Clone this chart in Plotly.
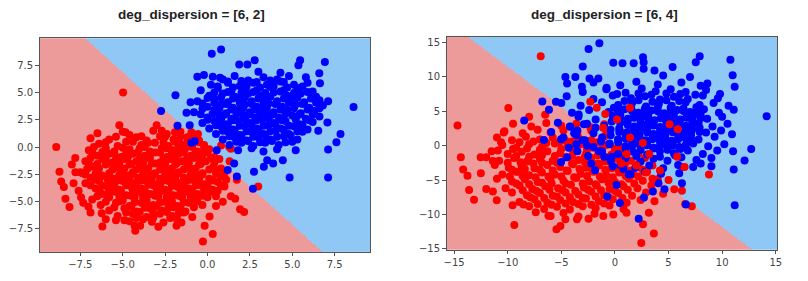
import numpy as np
import plotly.graph_objects as go

# ---------------- data ----------------
titles = ["deg_dispersion = [6, 2]", "deg_dispersion = [6, 4]"]

# linear decision boundary: w0*x + w1*y + b > 0 -> class 1 (blue)
left_clf = [1.40, 1.0, 0.15]
right_clf = [1.164, 1.0, 0.15]

left_xrange = [-9.9, 9.6]
left_yrange = [-9.6, 9.96]
right_xrange = [-15.7, 15.14]
right_yrange = [-15.14, 15.8]

left_ticks = [-7.5, -5.0, -2.5, 0.0, 2.5, 5.0, 7.5]
left_ticktext = ["\u22127.5", "\u22125.0", "\u22122.5", "0.0", "2.5", "5.0", "7.5"]
right_ticks = [-15, -10, -5, 0, 5, 10, 15]
right_ticktext = ["\u221215", "\u221210", "\u22125", "0", "5", "10", "15"]

left_red = [
    (-5.0,1.4),(-4.6,1.1),(-3.2,1.5),(-2.4,1.2),(-1.6,1.4),(-0.9,1.1),
    (-5.8,0.7),(-4.2,0.9),(-3.6,0.6),(-2.8,1.0),(-2.0,0.7),(-1.2,0.9),(-0.5,0.6),
    (-6.4,0.3),(-5.3,0.1),(-4.8,0.5),(-3.9,0.2),(-3.1,0.4),(-2.3,0.1),(-1.6,0.3),(-0.8,0.5),(-0.2,0.2),
    (-7.0,-0.3),(-6.0,-0.1),(-5.5,-0.4),(-4.6,-0.2),(-4.0,-0.1),(-3.4,-0.4),(-2.7,-0.1),(-2.0,-0.3),(-1.3,-0.1),(-0.6,-0.4),(0.1,-0.2),
    (-6.5,-0.8),(-5.8,-0.6),(-5.1,-0.9),(-4.4,-0.6),(-3.7,-0.8),(-3.1,-0.5),(-2.4,-0.9),(-1.7,-0.6),(-1.0,-0.8),(-0.3,-0.7),(0.4,-0.9),
    (-7.2,-1.3),(-6.2,-1.1),(-5.6,-1.4),(-4.9,-1.1),(-4.2,-1.3),(-3.5,-1.0),(-2.8,-1.4),(-2.2,-1.1),(-1.5,-1.3),(-0.8,-1.0),(-0.1,-1.3),(0.7,-1.1),
    (-6.8,-1.8),(-6.0,-1.6),(-5.3,-1.9),(-4.6,-1.6),(-4.0,-1.8),(-3.3,-1.5),(-2.6,-1.9),(-1.9,-1.6),(-1.2,-1.8),(-0.5,-1.6),(0.3,-1.9),
    (-7.5,-2.3),(-6.5,-2.1),(-5.8,-2.4),(-5.1,-2.1),(-4.4,-2.3),(-3.8,-2.0),(-3.1,-2.4),(-2.4,-2.1),(-1.7,-2.3),(-1.0,-2.0),(-0.3,-2.4),(0.5,-2.1),(1.0,-2.4),
    (-6.9,-2.8),(-6.2,-2.6),(-5.5,-2.9),(-4.8,-2.6),(-4.1,-2.8),(-3.5,-2.5),(-2.8,-2.9),(-2.1,-2.6),(-1.4,-2.8),(-0.7,-2.5),(0.1,-2.9),(0.8,-2.7),
    (-7.2,-3.3),(-6.4,-3.1),(-5.7,-3.4),(-5.0,-3.1),(-4.3,-3.3),(-3.7,-3.0),(-3.0,-3.4),(-2.3,-3.1),(-1.6,-3.3),(-0.9,-3.0),(-0.2,-3.4),(0.6,-3.2),
    (-6.6,-3.8),(-5.9,-3.6),(-5.2,-3.9),(-4.5,-3.6),(-3.9,-3.8),(-3.2,-3.5),(-2.5,-3.9),(-1.8,-3.6),(-1.1,-3.8),(-0.4,-3.5),(0.3,-3.9),
    (-6.2,-4.3),(-5.5,-4.1),(-4.8,-4.4),(-4.1,-4.1),(-3.4,-4.3),(-2.7,-4.0),(-2.0,-4.4),(-1.3,-4.1),(-0.6,-4.3),(0.2,-4.1),
    (-6.8,-4.8),(-5.8,-4.6),(-5.0,-4.9),(-4.3,-4.6),(-3.6,-4.8),(-2.9,-4.5),(-2.2,-4.9),(-1.5,-4.6),(-0.8,-4.8),(0.0,-4.6),
    (-6.3,-5.3),(-5.4,-5.1),(-4.6,-5.4),(-3.9,-5.1),(-3.2,-5.3),(-2.5,-5.0),(-1.8,-5.4),(-1.1,-5.1),(-0.3,-5.3),
    (-5.8,-5.8),(-4.9,-5.6),(-4.2,-5.9),(-3.4,-5.6),(-2.7,-5.8),(-2.0,-5.5),(-1.3,-5.9),
    (-5.3,-6.3),(-4.4,-6.1),(-3.6,-6.4),(-2.8,-6.1),(-2.1,-6.3),(-1.4,-6.0),
    (-4.6,-6.8),(-3.8,-6.6),(-2.6,-6.9),(-1.8,-6.6),
    # denser core fill
    (-5.4,0.95),(-3.9,1.0),(-2.5,0.95),(-1.6,0.95),(-0.8,0.9),
    (-6.0,0.45),(-4.4,0.5),(-3.5,0.4),(-2.6,0.45),(-1.9,0.5),(-1.2,0.4),(-0.5,0.45),
    (-6.7,0.0),(-5.0,-0.05),(-3.7,0.0),(-2.4,-0.1),(-1.7,0.05),(-0.9,0.0),(-0.2,-0.05),
    (-6.8,-0.5),(-6.2,-0.45),(-5.5,-0.55),(-4.8,-0.5),(-4.1,-0.45),(-3.4,-0.6),(-2.8,-0.5),(-2.1,-0.55),(-1.4,-0.5),(-0.7,-0.45),(0.0,-0.5),
    (-6.9,-1.0),(-6.0,-0.95),(-5.4,-1.05),(-4.7,-0.95),(-4.0,-1.05),(-3.4,-1.0),(-2.6,-1.0),(-1.9,-0.95),(-1.2,-1.05),(-0.5,-0.95),(0.2,-1.0),
    (-7.0,-1.5),(-6.5,-1.55),(-5.9,-1.45),(-5.2,-1.5),(-4.5,-1.55),(-3.8,-1.45),(-3.1,-1.5),(-2.5,-1.55),(-1.8,-1.45),(-1.1,-1.5),(-0.4,-1.55),(0.4,-1.45),
    (-7.1,-2.0),(-6.4,-1.95),(-5.6,-2.05),(-4.9,-1.95),(-4.2,-2.05),(-3.5,-1.95),(-2.8,-2.05),(-2.1,-1.95),(-1.4,-2.05),(-0.7,-1.95),(0.1,-2.05),(0.8,-1.95),
    (-7.2,-2.5),(-6.6,-2.45),(-5.2,-2.55),(-4.5,-2.5),(-3.8,-2.45),(-3.2,-2.55),(-2.5,-2.5),(-1.8,-2.45),(-1.0,-2.55),(-0.3,-2.5),(0.5,-2.45),
    (-6.6,-3.0),(-5.9,-2.95),(-5.3,-3.05),(-4.6,-2.95),(-3.9,-3.05),(-3.3,-2.95),(-2.6,-3.05),(-1.9,-2.95),(-1.2,-3.05),(-0.5,-2.95),(0.3,-3.05),(1.1,-3.0),
    (-6.9,-3.5),(-6.2,-3.55),(-5.5,-3.45),(-4.8,-3.5),(-4.2,-3.55),(-3.5,-3.45),(-2.8,-3.5),(-2.1,-3.55),(-1.4,-3.45),(-0.7,-3.5),(0.0,-3.55),(0.8,-3.5),
    (-6.4,-4.0),(-5.8,-3.95),(-5.1,-4.05),(-4.4,-3.95),(-3.7,-4.05),(-3.0,-3.95),(-2.3,-4.05),(-1.6,-3.95),(-0.9,-4.05),(-0.2,-3.95),(0.6,-4.0),
    (-6.5,-4.5),(-5.9,-4.45),(-5.2,-4.55),(-4.5,-4.45),(-3.8,-4.55),(-3.1,-4.45),(-2.4,-4.55),(-1.7,-4.45),(-1.0,-4.55),(-0.3,-4.45),(0.5,-4.5),
    (-6.0,-5.0),(-5.2,-4.95),(-4.3,-5.05),(-3.6,-5.0),(-2.8,-5.05),(-2.1,-4.95),(-1.4,-5.05),(-0.6,-4.95),
    (-5.5,-5.5),(-4.5,-5.45),(-3.7,-5.55),(-3.0,-5.45),(-2.3,-5.55),(-1.6,-5.45),(-0.8,-5.5),
    (-4.8,-6.0),(-4.0,-5.95),(-3.2,-6.05),(-2.4,-5.95),(-1.7,-6.05),
    (-4.2,-6.5),(-3.2,-6.45),(-2.2,-6.5),
    # scattered
    (-8.92,0.0),(-4.98,5.0),(-6.49,1.26),(-8.73,-2.25),(-8.63,-3.15),(-8.47,-3.66),(-8.38,-4.74),
    (-8.14,-5.49),(-7.79,-2.31),(-7.37,-2.4),(-7.46,-4.59),(-7.33,-5.1),(-7.02,-5.46),(-6.2,-7.26),
    (-6.24,-6.06),(-4.26,-7.65),(-4.3,-7.2),(-3.97,-7.2),(-3.28,-6.84),(-1.83,-7.2),(-1.54,-6.9),
    (-0.27,-8.64),(-0.17,-7.2),(0.31,-7.95),(0.12,-6.36),(0.5,-5.4),(1.38,-4.5),(1.63,-4.74),
    (1.92,-5.7),(2.16,-5.94),(1.73,-3.0),(2.99,-3.6),(-0.95,1.35),(-0.56,1.2),(1.28,0.0),
    (1.38,-0.15),(0.8,0.15),(-4.84,1.35),(-2.7,1.5),(-1.92,1.35),(-6.9,0.8),(-7.8,-1.0),
    (-5.2,2.0),(-3.0,2.0),(1.3,-1.3),(1.0,-3.6),(-6.0,-6.6),(-4.9,-6.7),(0.9,-5.0),
    (-7.9,-3.3),(-8.0,-1.6),(-7.6,-4.0),(-6.9,-6.0),(-5.4,-6.7),(-2.9,-7.3),(-0.9,-6.4),
]

left_blue = [
    (0.9,6.2),(1.6,6.5),(2.4,6.1),(3.3,6.4),(4.1,6.2),(4.8,6.5),
    (0.2,5.7),(1.2,5.9),(1.9,5.6),(2.7,5.9),(3.5,5.7),(4.3,6.0),(5.1,5.7),(5.9,5.9),
    (-0.4,5.2),(0.6,5.4),(1.4,5.1),(2.1,5.4),(2.9,5.2),(3.7,5.5),(4.5,5.2),(5.3,5.4),(6.2,5.1),
    (0.1,4.7),(0.9,4.9),(1.6,4.6),(2.4,4.9),(3.1,4.7),(3.9,5.0),(4.7,4.7),(5.5,4.9),(6.4,4.6),
    (-0.6,4.2),(0.4,4.4),(1.2,4.1),(1.9,4.4),(2.6,4.2),(3.4,4.5),(4.1,4.2),(4.9,4.4),(5.7,4.1),(6.6,4.3),
    (0.0,3.7),(0.8,3.9),(1.5,3.6),(2.2,3.9),(2.9,3.7),(3.6,4.0),(4.4,3.7),(5.2,3.9),(6.0,3.6),(6.8,3.8),
    (-0.8,3.2),(0.4,3.4),(1.1,3.1),(1.8,3.4),(2.5,3.2),(3.2,3.5),(3.9,3.2),(4.7,3.4),(5.5,3.1),(6.3,3.3),
    (0.0,2.7),(0.7,2.9),(1.4,2.6),(2.1,2.9),(2.8,2.7),(3.5,3.0),(4.2,2.7),(5.0,2.9),(5.8,2.6),(6.6,2.8),
    (-0.3,2.2),(0.4,2.4),(1.1,2.1),(1.8,2.4),(2.5,2.2),(3.2,2.5),(3.9,2.2),(4.6,2.4),(5.4,2.1),(6.2,2.3),
    (0.1,1.7),(0.8,1.9),(1.5,1.6),(2.2,1.9),(2.9,1.7),(3.6,2.0),(4.3,1.7),(5.1,1.9),(5.9,1.6),
    (0.5,1.2),(1.2,1.4),(1.9,1.1),(2.6,1.4),(3.3,1.2),(4.0,1.5),(4.8,1.2),(5.6,1.4),
    (0.9,0.7),(1.6,0.9),(2.3,0.6),(3.0,0.9),(3.7,0.7),(4.5,1.0),(5.3,0.7),
    (1.3,0.2),(2.0,0.4),(2.7,0.1),(3.4,0.4),(4.2,0.2),(5.0,0.5),
    (1.8,-0.3),(2.6,-0.1),(3.3,-0.4),(4.1,-0.2),(5.2,-0.3),
    # denser core fill
    (1.2,6.0),(2.0,6.05),(2.9,5.95),(3.7,6.1),(4.5,5.95),
    (0.6,5.55),(1.5,5.45),(2.3,5.55),(3.1,5.45),(3.9,5.6),(4.7,5.45),(5.6,5.55),
    (0.4,5.0),(1.2,5.05),(2.0,4.95),(2.7,5.05),(3.4,4.95),(4.3,5.1),(5.1,4.95),(5.9,5.05),
    (0.0,4.5),(0.8,4.55),(1.5,4.45),(2.2,4.55),(3.0,4.45),(3.7,4.6),(4.5,4.45),(5.3,4.55),(6.1,4.45),
    (-0.3,4.0),(0.4,4.05),(1.1,3.95),(1.9,4.05),(2.6,3.95),(3.3,4.1),(4.0,3.95),(4.8,4.05),(5.6,3.95),(6.4,4.05),
    (-0.3,3.5),(0.7,3.55),(1.4,3.45),(2.1,3.55),(2.8,3.45),(3.5,3.6),(4.3,3.45),(5.1,3.55),(5.9,3.45),(6.6,3.55),
    (-0.4,3.0),(0.3,3.05),(1.0,2.95),(1.7,3.05),(2.4,2.95),(3.1,3.1),(3.8,2.95),(4.6,3.05),(5.4,2.95),(6.2,3.05),
    (0.0,2.5),(0.8,2.55),(1.5,2.45),(2.2,2.55),(2.9,2.45),(3.6,2.6),(4.4,2.45),(5.2,2.55),(6.0,2.45),
    (0.5,2.0),(1.2,2.05),(1.9,1.95),(2.6,2.05),(3.3,1.95),(4.0,2.1),(4.8,1.95),(5.6,2.05),
    (0.9,1.5),(1.6,1.55),(2.3,1.45),(3.0,1.55),(3.7,1.45),(4.5,1.6),(5.3,1.45),
    (1.3,1.0),(2.0,1.05),(2.7,0.95),(3.4,1.05),(4.1,0.95),(4.9,1.05),
    (1.7,0.5),(2.4,0.55),(3.1,0.45),(3.8,0.55),(4.6,0.45),
    # scattered
    (0.25,8.55),(0.8,8.94),(1.87,7.56),(2.35,7.56),(2.78,7.95),(5.36,7.5),(5.46,7.95),(6.92,7.8),
    (6.59,6.75),(6.63,5.85),(7.11,4.2),(8.61,3.66),(7.84,1.2),(7.6,0.45),(7.11,-0.21),(7.07,2.25),
    (7.11,-2.79),(4.84,-2.79),(4.44,-1.2),(2.74,-2.25),(1.73,-2.7),(1.19,-2.1),(2.68,-3.81),
    (-2.74,3.3),(-1.89,4.74),(-1.77,1.95),(-1.24,3.15),(-1.05,2.01),(-0.6,6.45),(-0.21,6.6),
    (0.31,6.45),(0.74,6.36),(-0.95,0.39),(-0.76,0.54),(0.54,-0.3),(1.57,-1.5),(3.52,-1.2),
    (3.87,-1.5),(3.32,-1.8),(6.24,3.0),(6.53,1.5),(3.0,6.9),(4.3,6.8),(5.8,6.4),(-1.0,4.1),
]

right_red = [
    (-9.5,3.2),(-7.8,2.8),(-6.4,3.3),(-5.0,2.9),(-3.6,3.2),(-2.3,2.7),(-1.0,3.1),
    (-10.3,2.1),(-8.6,1.8),(-7.2,2.3),(-6.0,1.9),(-4.8,2.2),(-3.5,1.7),(-2.2,2.2),(-0.8,1.8),(0.5,2.1),
    (-11.0,1.2),(-9.6,0.8),(-8.3,1.3),(-7.0,0.9),(-5.8,1.2),(-4.6,0.7),(-3.4,1.1),(-2.2,0.8),(-1.0,1.3),(0.3,0.9),(1.6,1.2),
    (-10.5,0.1),(-9.2,-0.3),(-8.0,0.2),(-6.8,-0.2),(-5.6,0.3),(-4.4,-0.1),(-3.2,0.2),(-2.0,-0.3),(-0.8,0.1),(0.5,-0.2),(1.8,0.2),
    (-11.5,-0.8),(-10.0,-1.2),(-8.7,-0.9),(-7.5,-1.3),(-6.3,-0.8),(-5.1,-1.1),(-3.9,-0.7),(-2.7,-1.2),(-1.5,-0.9),(-0.3,-1.3),(0.9,-0.8),(2.2,-1.1),
    (-10.8,-2.2),(-9.4,-1.8),(-8.2,-2.3),(-7.0,-1.9),(-5.8,-2.2),(-4.6,-1.7),(-3.4,-2.1),(-2.2,-1.8),(-1.0,-2.3),(0.2,-1.9),(1.5,-2.2),(2.8,-1.8),
    (-11.2,-2.8),(-9.9,-3.2),(-8.7,-2.9),(-7.5,-3.3),(-6.3,-2.8),(-5.1,-3.1),(-3.9,-2.7),(-2.7,-3.2),(-1.5,-2.9),(-0.3,-3.3),(0.9,-2.8),(2.2,-3.1),(3.5,-2.9),
    (-10.5,-4.2),(-9.2,-3.8),(-8.0,-4.3),(-6.8,-3.9),(-5.6,-4.2),(-4.4,-3.7),(-3.2,-4.1),(-2.0,-3.8),(-0.8,-4.3),(0.4,-3.9),(1.7,-4.2),(3.0,-3.8),
    (-11.0,-4.8),(-9.6,-5.2),(-8.4,-4.9),(-7.2,-5.3),(-6.0,-4.8),(-4.8,-5.1),(-3.6,-4.7),(-2.4,-5.2),(-1.2,-4.9),(0.0,-5.3),(1.3,-4.8),(2.6,-5.1),(4.0,-4.9),
    (-10.2,-6.2),(-8.9,-5.8),(-7.7,-6.3),(-6.5,-5.9),(-5.3,-6.2),(-4.1,-5.7),(-2.9,-6.1),(-1.7,-5.8),(-0.5,-6.3),(0.8,-5.9),(2.1,-6.2),(3.4,-5.8),
    (-9.6,-6.8),(-8.2,-7.2),(-7.0,-6.9),(-5.8,-7.3),(-4.6,-6.8),(-3.4,-7.1),(-2.2,-6.7),(-1.0,-7.2),(0.3,-6.9),(1.6,-7.3),(2.9,-6.8),
    (-8.9,-8.2),(-7.5,-7.8),(-6.3,-8.3),(-5.1,-7.9),(-3.9,-8.2),(-2.7,-7.7),(-1.5,-8.1),(-0.2,-7.8),(1.1,-8.3),(2.4,-7.9),
    (-8.0,-8.8),(-6.6,-9.2),(-5.4,-8.9),(-4.2,-9.3),(-3.0,-8.8),(-1.8,-9.1),(-0.5,-8.7),(0.8,-9.2),
    (-6.2,-10.2),(-4.8,-9.8),(-3.4,-10.3),(-1.9,-9.9),
    (-6.8,-2.5),(-4.0,-2.6),(-2.8,-2.4),(-1.6,-2.6),(-7.0,-3.5),(-4.5,-3.6),(-3.3,-3.4),(-2.1,-3.6),(-0.9,-3.5),
    (-5.0,-4.5),(-3.8,-4.6),(-2.6,-4.4),(-1.4,-4.5),(-5.9,-5.5),(-3.0,-5.5),(-1.8,-5.6),(-4.0,-1.5),(-2.8,-1.6),(-1.6,-1.4),
    # denser core fill
    (-8.9,0.5),(-7.6,0.6),(-6.4,0.4),(-5.2,0.5),(-4.0,0.6),(-2.8,0.4),(-1.6,0.5),
    (-9.5,-0.5),(-8.2,-0.4),(-7.0,-0.6),(-5.0,-0.5),(-3.8,-0.4),(-2.6,-0.6),(-1.2,-0.5),(0.0,-0.4),
    (-9.2,-1.5),(-8.0,-1.6),(-6.8,-1.4),(-5.6,-1.5),(-0.4,-1.5),(0.8,-1.6),
    (-10.0,-2.5),(-8.8,-2.4),(-7.6,-2.6),(-5.4,-2.5),(-0.4,-2.5),(1.0,-2.4),(2.2,-2.6),
    (-9.6,-3.5),(-8.4,-3.4),(-5.8,-3.6),(0.3,-3.4),(1.5,-3.6),(2.6,-3.5),
    (-9.8,-4.5),(-8.6,-4.4),(-7.4,-4.6),(-6.2,-4.5),(-0.2,-4.6),(1.0,-4.4),(2.2,-4.5),
    (-9.2,-5.5),(-8.0,-5.6),(-6.8,-5.4),(-4.6,-5.5),(-0.6,-5.4),(0.6,-5.6),(1.8,-5.5),
    (-8.6,-6.5),(-7.3,-6.6),(-6.1,-6.4),(-4.9,-6.5),(-3.7,-6.6),(-2.5,-6.4),(-1.3,-6.5),(0.0,-6.6),(1.2,-6.4),
    (-7.9,-7.5),(-6.6,-7.6),(-5.4,-7.4),(-4.2,-7.5),(-3.0,-7.6),(-1.8,-7.4),(-0.6,-7.5),(0.7,-7.6),
    (-7.2,-8.5),(-5.9,-8.6),(-4.6,-8.4),(-3.4,-8.5),(-2.2,-8.6),(-1.0,-8.4),
    # scattered
    (-6.92,13.0),(-14.68,2.95),(-14.37,-1.67),(-14.15,-3.48),(-13.75,-4.38),(-13.6,-6.43),(-13.14,-7.86),
    (-12.52,-1.67),(-12.0,-1.67),(-11.38,-2.24),(-12.0,-6.29),(-11.38,-6.67),(-11.02,-7.95),(-10.92,-0.71),
    (-10.62,0.48),(-10.37,1.9),(-9.94,5.48),(-9.38,-11.52),(-9.54,-8.67),(-8.52,-8.57),(-7.38,-9.67),
    (-6.0,-10.24),(-5.45,-12.14),(-5.08,-11.67),(-4.62,-10.71),(-3.54,-10.71),(-2.46,-10.62),(-1.08,-10.24),
    (-0.15,-10.0),(1.08,-9.76),(2.62,-11.43),(2.46,-14.14),(3.63,-12.76),(3.17,-9.76),(3.69,-8.1),
    (6.55,-8.48),(7.17,-8.81),(8.77,-4.19),(6.25,-6.57),(5.54,-6.33),(6.31,-3.1),(-8.0,4.2),(-6.5,4.5),
    (-9.0,-3.8),(-12.5,-4.0),(4.5,-7.0),(5.0,-5.0),
]

right_red_over = [
    (-2.3,6.4),(-1.7,5.5),(-1.1,2.6),(1.1,-1.2),(1.4,1.2),(2.0,-2.9),
    (3.2,-1.2),(4.2,-3.6),(5.1,3.1),(5.85,2.4),(6.5,-3.1),(1.4,5.5),(0.2,3.8),
    (2.6,0.4),(5.8,-1.6),(3.5,-4.8),(-0.9,4.6),(0.6,-2.6),(2.9,-3.9),
]

right_blue = [
    (-2.0,9.2),(0.5,8.8),(2.0,9.3),(4.0,8.9),(6.2,9.2),(8.0,8.7),
    (-3.0,7.8),(-0.8,8.2),(1.0,7.7),(2.5,8.3),(3.8,7.9),(5.2,8.2),(6.6,7.8),(8.5,8.1),
    (-4.5,7.2),(-2.0,6.8),(-0.2,7.3),(1.5,6.9),(2.8,7.2),(4.2,6.7),(5.5,7.1),(6.8,6.8),(8.2,7.3),(9.6,6.9),
    (-5.0,6.2),(-3.2,5.8),(-1.2,6.3),(0.3,5.9),(1.6,6.2),(2.9,5.7),(4.1,6.1),(5.3,5.8),(6.6,6.3),(7.9,5.9),(9.2,6.2),(10.6,5.8),
    (-4.0,4.8),(-2.4,5.2),(-0.6,4.9),(0.9,5.3),(2.2,4.8),(3.4,5.1),(4.6,4.7),(5.8,5.2),(7.0,4.9),(8.3,5.3),(9.7,4.8),
    (-3.4,4.2),(-1.8,3.8),(-0.2,4.3),(1.2,3.9),(2.5,4.2),(3.7,3.7),(4.9,4.1),(6.1,3.8),(7.3,4.3),(8.6,3.9),(10.0,4.2),
    (-4.2,2.8),(-2.6,3.2),(-1.0,2.9),(0.5,3.3),(1.8,2.8),(3.0,3.1),(4.2,2.7),(5.4,3.2),(6.6,2.9),(7.8,3.3),(9.1,2.8),
    (-3.5,2.2),(-2.0,1.8),(-0.4,2.3),(1.1,1.9),(2.4,2.2),(3.6,1.7),(4.8,2.1),(6.0,1.8),(7.2,2.3),(8.5,1.9),(9.9,2.2),
    (-2.8,0.8),(-1.2,1.2),(0.3,0.9),(1.6,1.3),(2.9,0.8),(4.1,1.1),(5.3,0.7),(6.5,1.2),(7.8,0.9),(9.3,1.3),
    (-3.6,0.2),(-2.0,-0.2),(-0.5,0.3),(1.0,-0.1),(2.3,0.2),(3.6,-0.3),(4.8,0.1),(6.0,-0.2),(7.3,0.3),(8.7,-0.1),(10.2,0.2),
    (-1.2,-0.8),(0.3,-1.2),(1.7,-0.9),(3.0,-1.3),(4.2,-0.8),(5.5,-1.1),(6.8,-0.7),(8.2,-1.2),
    (-0.4,-2.2),(1.0,-1.8),(2.4,-2.3),(3.6,-1.9),(4.9,-2.2),(6.2,-1.7),(7.6,-2.1),(9.0,-1.8),
    (0.5,-2.8),(1.9,-3.2),(3.2,-2.9),(4.5,-3.3),(5.9,-2.8),(7.3,-3.1),
    (1.3,-4.2),(2.8,-3.8),(4.3,-4.1),
    (0.9,6.5),(2.2,6.6),(3.5,6.4),(4.8,6.6),(6.0,6.5),
    (-0.1,5.5),(1.5,5.6),(2.8,5.4),(4.0,5.6),(5.2,5.5),(6.4,5.4),(7.6,5.6),
    (0.5,4.5),(1.8,4.6),(3.1,4.4),(4.3,4.6),(5.5,4.5),(6.7,4.4),(8.0,4.6),
    (-0.3,3.5),(1.2,3.6),(2.4,3.4),(3.6,3.6),(4.8,3.5),(6.0,3.4),(7.2,3.6),
    (0.4,2.5),(1.7,2.6),(3.0,2.4),(4.2,2.6),(5.4,2.5),(6.6,2.4),(7.9,2.6),
    (-0.4,1.5),(1.0,1.6),(2.3,1.4),(3.5,1.6),(4.7,1.5),(5.9,1.4),(7.1,1.6),
    (0.3,0.5),(1.6,0.6),(3.0,0.4),(4.2,0.6),(5.4,0.5),(6.7,0.4),
    (1.0,-0.5),(2.4,-0.6),(3.6,-0.4),(4.9,-0.6),(6.1,-0.5),
    (2.0,-1.5),(4.2,-1.6),(5.6,-1.4),
    (0.2,7.5),(2.2,7.6),(3.4,7.4),(4.8,7.6),(6.1,7.5),(7.5,7.4),
    (0.3,5.0),(1.6,5.05),(2.8,4.95),(4.0,5.0),(5.2,4.95),(6.4,5.05),(7.6,5.0),
    (0.5,4.0),(1.8,4.05),(3.1,3.95),(4.3,4.0),(5.5,3.95),(6.7,4.05),(8.0,4.0),
    (1.2,3.0),(2.4,3.0),(3.6,2.95),(4.8,3.05),(6.0,3.0),(7.2,2.95),
    (0.4,2.0),(1.8,2.05),(3.0,1.95),(4.2,2.0),(5.4,1.95),(6.6,2.05),(7.9,2.0),
    (1.0,1.0),(2.3,1.05),(3.5,0.95),(4.7,1.0),(5.9,0.95),(7.1,1.05),
    (1.6,0.0),(3.0,0.05),(4.2,-0.05),(5.4,0.0),(6.6,0.05),
    # overlap with the red cloud
    (-3.5,-0.8),(-2.5,-1.5),(-3.0,0.8),(-1.8,2.6),(-4.3,-0.3),(-2.2,-2.6),(-1.0,-1.6),
    (-0.2,-3.0),(-3.8,1.8),(-2.9,3.1),(-0.5,0.2),(-1.5,-0.8),(-3.6,1.5),(-0.3,-1.6),
    (-2.6,0.0),(-1.3,0.6),(0.8,-3.4),(-4.8,1.2),
    # scattered
    (-1.45,14.9),(-2.46,14.05),(-8.46,3.67),(-6.77,6.43),(-4.62,10.0),(-4.46,9.05),(-3.69,10.0),
    (-3.08,8.57),(-2.37,9.76),(-1.54,9.76),(-0.77,8.43),(-0.15,12.05),(0.71,12.0),(1.75,12.0),
    (2.62,12.86),(2.68,12.14),(2.68,11.19),(3.69,10.95),(5.38,11.43),(7.54,12.14),(7.91,13.0),
    (10.77,12.48),(10.98,10.24),(11.17,8.57),(14.15,4.29),(12.71,-0.48),(12.09,-2.14),(11.08,-3.48),
    (11.17,-8.67),(11.02,-0.81),(10.92,1.67),(11.08,5.24),(8.62,9.05),(6.62,-8.57),(6.25,-5.48),
    (4.62,-6.33),(4.06,-5.48),(3.54,-6.67),(2.71,-7.52),(2.22,-10.62),(0.46,-8.33),(-0.71,-7.38),
    (0.15,-5.71),(1.45,-4.14),(-1.85,-3.57),(-5.02,-2.38),(-4.46,-1.67),(-5.02,0.95),(-6.62,0.81),
    (-5.94,2.0),(-5.32,3.33),(-6.15,5.24),(-4.15,2.76),(-3.38,4.52),(9.54,-0.71),(9.8,7.5),
    (7.0,10.0),(4.5,10.2),(9.0,-3.0),(8.0,-2.6),(10.5,3.2),(-3.0,11.5),(-5.5,6.4),(6.0,-4.0),
]

# ---------------- styles ----------------
PINK = "#ec9a9a"
LIGHTBLUE = "#90c8f5"
RED = "#ff0000"
BLUE = "#0000ff"
MSIZE = 8

W, H = 808, 281
left_px = dict(x0=37, x1=371, y0=39, y1=256.5)
right_px = dict(x0=448, x1=782, y0=37.7, y1=254.3)


def dom(px):
    return ([px["x0"] / W, px["x1"] / W], [1 - px["y1"] / H, 1 - px["y0"] / H])


def background(clf, xr, yr, xa, ya):
    gx = np.linspace(xr[0], xr[1], 260)
    gy = np.linspace(yr[0], yr[1], 260)
    X, Y = np.meshgrid(gx, gy)
    z = ((clf[0] * X + clf[1] * Y + clf[2]) > 0).astype(int)
    return go.Heatmap(x=gx, y=gy, z=z, zmin=0, zmax=1, showscale=False,
                      colorscale=[[0, PINK], [0.5, PINK], [0.5, LIGHTBLUE], [1, LIGHTBLUE]],
                      xaxis=xa, yaxis=ya, hoverinfo="skip", zsmooth=False)


def pts(data, color, xa, ya):
    xs = [p[0] for p in data]
    ys = [p[1] for p in data]
    return go.Scatter(x=xs, y=ys, mode="markers", xaxis=xa, yaxis=ya,
                      marker=dict(size=MSIZE, color=color, line=dict(width=0)),
                      showlegend=False, hoverinfo="skip")


fig = go.Figure()
fig.add_trace(background(left_clf, left_xrange, left_yrange, "x", "y"))
fig.add_trace(pts(left_red, RED, "x", "y"))
fig.add_trace(pts(left_blue, BLUE, "x", "y"))
fig.add_trace(background(right_clf, right_xrange, right_yrange, "x2", "y2"))
fig.add_trace(pts(right_red, RED, "x2", "y2"))
fig.add_trace(pts(right_blue, BLUE, "x2", "y2"))
fig.add_trace(pts(right_red_over, RED, "x2", "y2"))

axis_common = dict(showgrid=False, zeroline=False, showline=True, mirror=True,
                   linecolor="#555555", linewidth=1, ticks="outside", ticklen=3.5,
                   tickwidth=1, tickcolor="#555555",
                   tickfont=dict(family="DejaVu Sans", size=10, color="#444444"))

lxd, lyd = dom(left_px)
rxd, ryd = dom(right_px)

fig.update_layout(
    width=W, height=H, margin=dict(l=0, r=0, t=0, b=0),
    paper_bgcolor="white", plot_bgcolor="white", showlegend=False,
    xaxis=dict(domain=lxd, range=left_xrange, tickvals=left_ticks, ticktext=left_ticktext,
               anchor="y", **axis_common),
    yaxis=dict(domain=lyd, range=left_yrange, tickvals=left_ticks, ticktext=left_ticktext,
               anchor="x", **axis_common),
    xaxis2=dict(domain=rxd, range=right_xrange, tickvals=right_ticks, ticktext=right_ticktext,
                anchor="y2", **axis_common),
    yaxis2=dict(domain=ryd, range=right_yrange, tickvals=right_ticks, ticktext=right_ticktext,
                anchor="x2", **axis_common),
)

title_pos = [(190, 15), (608, 15)]
for t, (px, py) in zip(titles, title_pos):
    fig.add_annotation(text="<b>" + t + "</b>", x=px / W, y=1 - py / H, xref="paper", yref="paper",
                       showarrow=False, xanchor="center", yanchor="middle",
                       font=dict(family="Liberation Sans, Arial", size=13.5, color="#222222"))

fig.write_html("out.html")
